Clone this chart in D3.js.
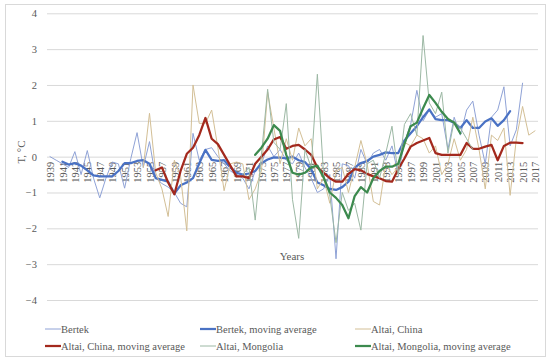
<!DOCTYPE html>
<html><head><meta charset="utf-8">
<script src="https://cdn.jsdelivr.net/npm/d3@7/dist/d3.min.js"></script>
<style>
html,body{margin:0;padding:0;background:#fff;}
svg{display:block;}
svg text{font-family:"Liberation Serif","Times New Roman",serif !important;fill:#595959;}
</style></head><body>
<svg id="chart" width="550" height="363" font-family="Liberation Serif"></svg>
<script>
// ---------- data ----------
const years = [1939,1940,1941,1942,1943,1944,1945,1946,1947,1948,1949,1950,1951,1952,1953,1954,1955,1956,1957,1958,1959,1960,1961,1962,1963,1964,1965,1966,1967,1968,1969,1970,1971,1972,1973,1974,1975,1976,1977,1978,1979,1980,1981,1982,1983,1984,1985,1986,1987,1988,1989,1990,1991,1992,1993,1994,1995,1996,1997,1998,1999,2000,2001,2002,2003,2004,2005,2006,2007,2008,2009,2010,2011,2012,2013,2014,2015,2016,2017];
const tickYears = [1939,1941,1943,1945,1947,1949,1951,1953,1955,1957,1959,1961,1963,1965,1967,1969,1971,1973,1975,1977,1979,1981,1983,1985,1987,1989,1991,1993,1995,1997,1999,2001,2003,2005,2007,2009,2011,2013,2015,2017];
const yTicks = [-4,-3,-2,-1,0,1,2,3,4];

const bertekStart = 1939;
const bertek = [0.0,-0.1,-0.2,-0.3,0.14,-0.5,0.17,-0.6,-1.15,-0.6,
 -0.15,-0.2,-0.88,-0.05,0.67,-0.3,0.42,-0.6,-0.75,-0.85,
 -1.0,-1.3,-1.4,0.65,-0.1,0.2,0.25,0.0,-0.2,-0.4,
 -0.5,-0.6,-0.9,-0.4,-0.2,0.3,0.0,0.2,-0.1,-0.2,
 0.1,-0.3,-0.6,-1.0,-0.9,-0.5,-2.85,-0.2,-0.25,-0.6,
 0.2,-0.2,0.1,0.2,-0.1,0.3,-0.5,0.4,0.9,1.85,
 1.0,1.3,1.1,1.2,0.2,1.1,0.6,1.3,1.55,0.6,
 -0.2,1.1,1.3,1.95,0.3,0.75,2.05];

const bertekMAStart = 1941;
const bertekMA = [-0.14,-0.22,-0.18,-0.25,-0.38,-0.52,-0.55,-0.55,-0.55,-0.4,
 -0.18,-0.18,-0.12,-0.1,-0.2,-0.6,-0.65,-0.7,-1.03,-0.8,
 -0.72,-0.6,-0.19,0.19,-0.09,-0.12,-0.1,-0.3,-0.45,-0.5,
 -0.47,-0.4,-0.18,-0.08,-0.02,-0.03,-0.05,0.0,-0.1,-0.15,
 -0.35,-0.72,-0.8,-0.9,-0.93,-0.85,-0.7,-0.3,-0.18,-0.12,
 0.0,0.05,0.12,0.1,0.1,0.45,0.65,0.85,1.1,1.32,
 1.05,1.02,1.02,0.95,0.8,1.02,0.8,0.8,0.98,1.07,
 0.86,1.02,1.27];

const chinaStart = 1954;
const china = [-0.3,1.21,-0.45,-0.9,-1.67,-0.1,-0.55,-2.07,2.0,0.93,
 0.93,1.3,0.25,-0.95,-0.2,-0.15,-0.2,-1.2,-0.9,-0.4,
 1.8,0.8,-0.2,0.5,-0.1,0.8,0.3,0.5,-0.9,-0.6,
 -1.3,-0.4,-0.3,-1.0,-0.3,0.45,-0.2,-1.25,-1.35,-0.2,
 -0.5,-0.3,0.4,0.3,0.6,0.5,0.1,0.3,-0.5,-0.2,
 0.5,-0.1,0.2,1.1,0.2,-0.9,0.6,0.45,0.8,-1.08,
 0.5,1.4,0.6,0.72];

const chinaMAStart = 1956;
const chinaMA = [-0.38,-0.3,-0.72,-1.05,-0.4,0.08,0.25,0.6,1.08,0.5,
 0.35,0.05,-0.25,-0.55,-0.55,-0.6,-0.2,0.0,0.2,0.48,
 0.55,0.22,0.3,0.33,0.2,0.05,-0.3,-0.45,-0.6,-0.7,
 -0.7,-0.48,-0.35,-0.38,-0.48,-0.55,-0.6,-0.68,-0.7,-0.35,
 -0.05,0.28,0.38,0.45,0.52,0.1,0.05,0.05,0.05,0.05,
 0.38,0.22,0.22,0.28,0.33,-0.1,0.3,0.39,0.39,0.38];

const mongoliaStart = 1970;
const mongolia = [-0.5,-0.3,-1.77,0.05,1.88,0.4,0.2,1.48,-1.2,-2.28,
 0.2,-0.3,2.3,-0.5,-1.1,-2.4,-1.0,-1.5,-1.3,-2.05,
 -0.2,-0.1,-0.6,0.1,0.85,-0.5,0.9,1.2,0.6,3.38,
 1.5,1.2,1.8,0.1,1.0,0.8,0.5,0.2];

const mongoliaMAStart = 1972;
const mongoliaMA = [0.05,0.25,0.5,0.88,0.72,0.05,-0.45,-0.5,-0.45,-0.3,
 -0.25,-0.58,-1.0,-1.15,-1.35,-1.72,-1.1,-0.85,-1.0,-0.6,
 -0.4,-0.28,-0.28,-0.2,0.35,0.85,0.95,1.35,1.72,1.5,
 1.25,1.05,0.95,0.65];

const seriesNames = ["Bertek","Bertek, moving average","Altai, China","Altai, China, moving average","Altai, Mongolia","Altai, Mongolia, moving average"];
const seriesColors = ["#8fa2d6","#4a72c4","#d3bf96","#a3291d","#9cb8a4","#3c8a4e"];
const seriesWidths = [1,2.25,1,2.25,1,2.25];

// ---------- chart ----------
const FONT = "'Liberation Serif','Times New Roman',serif";
const svg = d3.select("#chart");
svg.append("rect").attr("x",5.5).attr("y",4.5).attr("width",540).attr("height",352)
  .attr("fill","#fff").attr("stroke","#d9d9d9").attr("stroke-width",1);

const x = d3.scalePoint().domain(years).range([50,535]);
const y = d3.scaleLinear().domain([-4,4]).range([300,13.3]);
const plotL = 47, plotR = 538;

// y axis + grid
const yAxis = svg.append("g").attr("transform",`translate(${plotL},0)`)
  .call(d3.axisLeft(y).tickValues(yTicks).tickSize(-(plotR-plotL)).tickPadding(10).tickFormat(d3.format("d")));
yAxis.attr("font-family",null);
yAxis.select(".domain").remove();
yAxis.selectAll("line").attr("stroke","#d9d9d9").attr("stroke-width",1);
yAxis.selectAll("text").style("font-size","10.5px").attr("fill","#595959")
  .style("font-family",FONT);

// x axis labels at zero
const xAxis = svg.append("g").attr("transform",`translate(0,${y(0)})`)
  .call(d3.axisBottom(x).tickValues(tickYears).tickSize(0));
xAxis.attr("font-family",null);
xAxis.select(".domain").remove();
xAxis.selectAll("text")
  .attr("transform","rotate(-90)")
  .attr("text-anchor","end")
  .attr("x",-5).attr("y",0).attr("dy","0.35em")
  .style("font-size","10.5px").attr("fill","#595959")
  .style("font-family",FONT);

// series
function toPoints(start, vals){ return vals.map((v,i)=>({year:start+i, v})); }
const allSeries = [
  toPoints(bertekStart, bertek),
  toPoints(bertekMAStart, bertekMA),
  toPoints(chinaStart, china),
  toPoints(chinaMAStart, chinaMA),
  toPoints(mongoliaStart, mongolia),
  toPoints(mongoliaMAStart, mongoliaMA)
];
const line = d3.line().x(d=>x(d.year)).y(d=>y(d.v));
svg.append("g").selectAll("path").data(allSeries).join("path")
  .attr("d",line).attr("fill","none")
  .attr("stroke",(d,i)=>seriesColors[i])
  .attr("stroke-width",(d,i)=>seriesWidths[i])
  .attr("stroke-linejoin","round").attr("stroke-linecap","round");

// axis titles
svg.append("text").attr("x",292).attr("y",260).attr("text-anchor","middle")
  .style("font-size","11px").style("font-family",FONT).text("Years");
svg.append("text").attr("transform","translate(25,152) rotate(-90)").attr("text-anchor","middle")
  .style("font-size","11px").style("font-family",FONT).text("T, °C");

// legend
const legX = [45,200,355], legY = [329,346];
const leg = svg.append("g").selectAll("g").data(seriesNames).join("g")
  .attr("transform",(d,i)=>`translate(${legX[i%3]},${legY[Math.floor(i/3)]})`);
leg.append("line").attr("x1",0).attr("x2",16).attr("y1",0).attr("y2",0)
  .attr("stroke",(d,i)=>seriesColors[i]).attr("stroke-width",(d,i)=>seriesWidths[i]);
leg.append("text").attr("x",16).attr("y",0).attr("dy","0.35em")
  .style("font-size","10.5px").style("font-family",FONT).text(d=>d);
</script>
</body></html>
